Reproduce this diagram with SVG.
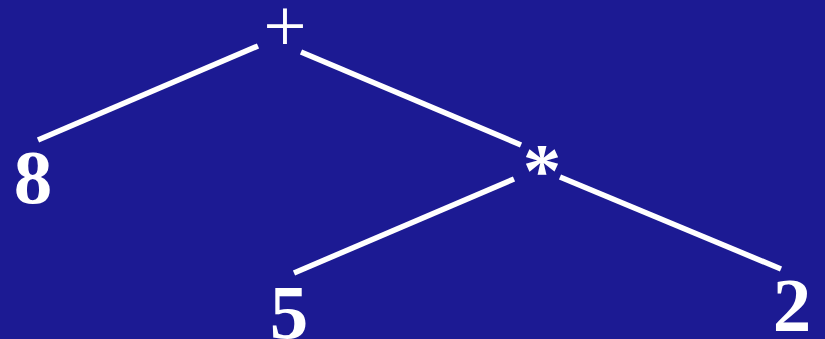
<svg xmlns="http://www.w3.org/2000/svg" width="825" height="339" viewBox="0 0 825 339">
<style>
.t{font-family:"Liberation Serif","Times New Roman",serif;font-weight:bold;font-size:77px;fill:#fff;text-anchor:middle}
.op{font-weight:normal}
.e{stroke:#fff;stroke-width:5.5;fill:none}
</style>
<rect width="825" height="339" fill="#1c1a93"/>
<g id="edges">
<line class="e" x1="38" y1="140" x2="258" y2="46"/>
<line class="e" x1="301" y1="52" x2="521" y2="145"/>
<line class="e" x1="514" y1="179" x2="294" y2="273"/>
<line class="e" x1="560" y1="177" x2="781" y2="269"/>
</g>
<g id="n-plus"><text class="t op" x="285" y="51">+</text></g>
<g id="n-8"><text class="t" x="33" y="203">8</text></g>
<g id="n-mul"><text class="t" x="542" y="196">*</text></g>
<g id="n-5"><text class="t" x="289" y="338">5</text></g>
<g id="n-2"><text class="t" x="792" y="331">2</text></g>
</svg>
